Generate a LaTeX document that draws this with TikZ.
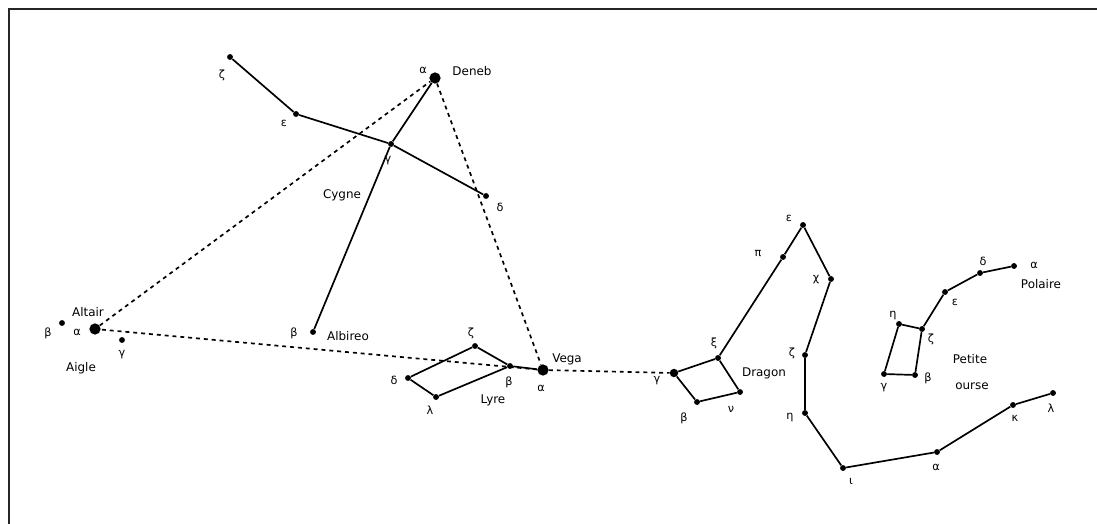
\documentclass[tikz,border=0pt]{standalone}
\usepackage{fontspec}
\setmainfont{DejaVu Sans}
\usetikzlibrary{positioning}
\tikzset{
  dot/.style={circle,fill=black,inner sep=0pt,minimum size=4.2pt},
  bigdot/.style={dot,minimum size=8pt},
  lbl/.style={font=\fontsize{8}{9}\selectfont,inner sep=0pt},
  cname/.style={font=\fontsize{8.5}{10}\selectfont,inner sep=0pt},
  link/.style={line width=1.2pt},
  sight/.style={line width=1.2pt,dash pattern=on 2.8pt off 2.8pt},
}

\begin{document}
\begin{tikzpicture}[x=0.025cm,y=-0.025cm]
  \useasboundingbox (0,0) rectangle (1097,524);
  \draw[line width=1.5pt,black!85] (9,524) -- (9,9) -- (1097,9);

  % stars
  \foreach \n/\x/\y in {cz/230/57,ce/296/114,cg/391/144,cd/486/196,cb/313/332,
      ab/62/323,ag/122/340,lb/510/366,lz/475/346,ld/408/378,ll/436/397,
      dxi/718/358,dnu/740/392,db/697/402,dpi/783/257,dtop/803/225,dchi/831/279,
      dz/805/355,deta/805/413,diota/843/468,dal/937/452,dk/1013/405,dl/1053/393,
      ua/1014/266,ud/980/273,ue/945/292,uz/922/329,ueta/899/324,ug/884/374,ub/915/375}{
    \node[dot] (\n) at (\x,\y) {};
  }
  \node[bigdot] (ca) at (435,78) {};
  \node[bigdot] (aa) at (95,329) {};
  \node[bigdot] (la) at (543,370) {};
  \node[bigdot,minimum size=6pt] (dg) at (674,373) {};

  % greek letters
  \foreach \n/\x/\y/\t in {tcz/222/75/ζ,tce/284/123/ε,tcg/388/161/γ,tca/423/70/α,
      tcd/500/207/δ,tcb/294/333/β,tab/48/333/β,taa/77/332/α,tag/122/355/γ,
      tlz/471/333/ζ,tlb/509/382/β,tla/541/388/α,tld/394/380/δ,tll/430/410/λ,
      tdg/657/381/γ,tdxi/714/343/ξ,tdnu/731/409/ν,tdb/684/418/β,tdpi/758/254/π,
      tdtop/789/218/ε,tdchi/816/280/χ,tdz/792/353/ζ,tdeta/790/418/η,tdiota/851/481/ι,
      tdal/936/467/α,tdk/1015/418/κ,tdl/1051/408/λ,
      tua/1034/265/α,tud/983/261/δ,tue/955/302/ε,tuz/931/339/ζ,tueta/893/316/η,
      tug/884/388/γ,tub/928/378/β}{
    \node[lbl] (\n) at (\x,\y) {\t};
  }

  % names
  \node[cname] (deneb) at (472,71) {Deneb};
  \node[cname] (cygne) at (342,195) {Cygne};
  \node[cname] (albireo) at (348,336) {Albireo};
  \node[cname] (altair) at (88,312) {Altair};
  \node[cname] (aigle) at (81,368) {Aigle};
  \node[cname] (vega) at (567,359) {Vega};
  \node[cname] (lyre) at (493,400) {Lyre};
  \node[cname] (dragon) at (764,373) {Dragon};
  \node[cname] (polaire) at (1041,284) {Polaire};
  \node[cname] (petite) at (970,359) {Petite};
  \node[cname] (ourse) at (972,386) {ourse};

  % constellation lines
  \draw[link] (cz) -- (ce) -- (cg) -- (cd);
  \draw[link] (ca) -- (cg) -- (cb);
  \draw[link] (ld) -- (lz) -- (lb) -- (ll) -- (ld);
  \draw[link] (lb) -- (la);
  \draw[link] (dg) -- (db) -- (dnu) -- (dxi) -- (dg);
  \draw[link] (dxi) -- (dpi) -- (dtop) -- (dchi) -- (dz) -- (deta) -- (diota)
    -- (dal) -- (dk) -- (dl);
  \draw[link] (ua) -- (ud) -- (ue) -- (uz) -- (ueta) -- (ug) -- (ub) -- (uz);

  % summer triangle
  \draw[sight] (aa) -- (ca) -- (la) -- (aa);
  \draw[sight] (la) -- (dg);
\end{tikzpicture}
\end{document}
